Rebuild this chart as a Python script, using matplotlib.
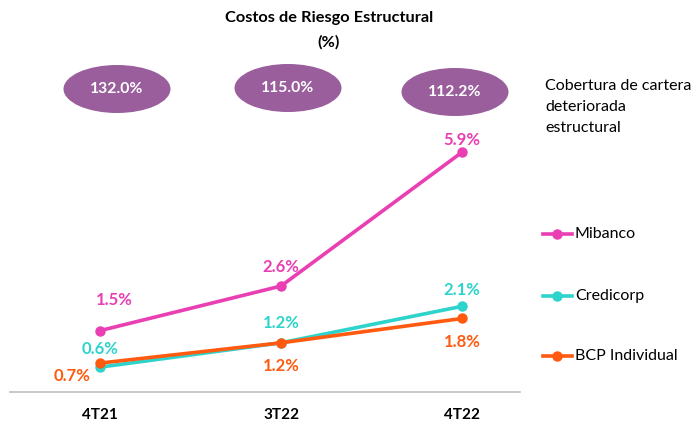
import matplotlib
matplotlib.use("Agg")
import matplotlib.pyplot as plt
from matplotlib.patches import Ellipse
from matplotlib.lines import Line2D

# data
periods = ["4T21", "3T22", "4T22"]
mibanco = [1.5, 2.6, 5.9]
credicorp = [0.6, 1.2, 2.1]
bcp = [0.7, 1.2, 1.8]
coverage = [132.0, 115.0, 112.2]

series = [
    ("Mibanco", mibanco, "#E93FB3", [(10, 22), (0, 14), (0, 9)]),
    ("Credicorp", credicorp, "#2ED3CB", [(0, 13), (0, 14), (0, 12)]),
    ("BCP Individual", bcp, "#FF5A0F", [(-20, -9), (0, -17), (0, -17)]),
]

plt.rcParams['font.family'] = ['Lato', 'DejaVu Sans']

W, H = 696, 421
fig = plt.figure(figsize=(W / 100, H / 100), dpi=100)
ax = fig.add_axes([10 / W, (H - 391.5) / H, 510 / W, 251.5 / H])

x = list(range(len(periods)))
for name, vals, col, offs in series:
    ax.plot(x, vals, color=col, lw=2.6, marker="o", ms=6.5, solid_capstyle="round")
    for xi, v, off in zip(x, vals, offs):
        ax.annotate(f"{v:.1f}%", (xi, v), xytext=off, textcoords="offset points",
                    ha="center", va="center", color=col, fontsize=12, fontweight="bold")

# BCP drawn on top of Credicorp in the reference
ax.lines[2].set_zorder(3)

ax.set_xlim(-0.497, 2.32)
ax.set_ylim(0, 6.2)
for s in ["top", "right", "left"]:
    ax.spines[s].set_visible(False)
ax.spines["bottom"].set_color("#BFBFBF")
ax.spines["bottom"].set_linewidth(1.2)
ax.set_yticks([])
ax.set_xticks(x)
ax.set_xticklabels(periods, fontsize=11, fontweight="bold")
ax.tick_params(axis="x", length=0, pad=12)

# title
fig.text(329 / W, 1 - 18 / H, "Costos de Riesgo Estructural", ha="center", va="center",
         fontsize=11.8, fontweight="bold")
fig.text(329 / W, 1 - 42 / H, "(%)", ha="center", va="center", fontsize=11.8, fontweight="bold")

# coverage ellipses
ell_x = [117, 288, 455]
ell_y = [89, 88, 92]
for cx, cy, c in zip(ell_x, ell_y, coverage):
    e = Ellipse((cx / W, 1 - cy / H), 107 / W, 48 / H, transform=fig.transFigure,
                facecolor="#9A5E9D", edgecolor="none")
    fig.add_artist(e)
    fig.text(cx / W, 1 - cy / H, f"{c:.1f}%", ha="center", va="center",
             color="white", fontsize=11.3, fontweight="bold")

for i, line in enumerate(["Cobertura de cartera", "deteriorada", "estructural"]):
    fig.text(545 / W, 1 - (86 + 21 * i) / H, line, ha="left", va="center", fontsize=11.5)

# legend
leg_y = [234, 296, 356]
for (name, vals, col, offs), ly in zip(series, leg_y):
    yy = 1 - ly / H
    fig.add_artist(Line2D([543 / W, 572 / W], [yy, yy], transform=fig.transFigure,
                          color=col, lw=2.6))
    fig.add_artist(Line2D([557 / W], [yy], transform=fig.transFigure, color=col,
                          marker="o", ms=6.5))
    fig.text(575 / W, yy, name, ha="left", va="center", fontsize=11.5)

fig.savefig("out.png", dpi=100)
